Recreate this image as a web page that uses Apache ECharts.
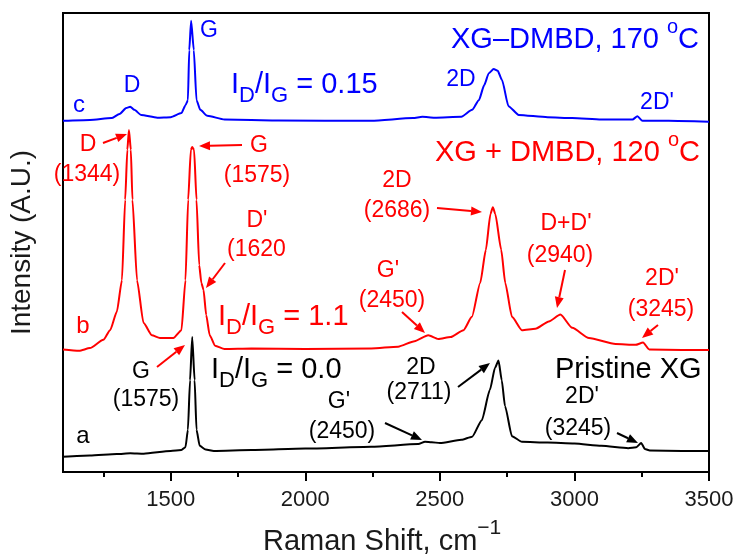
<!DOCTYPE html>
<html>
<head>
<meta charset="utf-8">
<script src="https://cdn.jsdelivr.net/npm/echarts@6/dist/echarts.min.js"></script>
<style>
  html, body { margin: 0; padding: 0; background: #fff; }
  #chart { width: 739px; height: 559px; }
</style>
</head>
<body>
<div id="chart"></div>
<script>
const FONT = '"Liberation Sans", Arial, sans-serif';

// Raman spectra, stacked with an offset: [Raman shift (cm-1), intensity (a.u.)]
const pristineXG = [
  [1100, 3.3], [1200, 3.6], [1300, 3.9], [1350, 4.1], [1400, 4.0], [1500, 4.6],
  [1540, 4.8], [1555, 5.4], [1564, 9.2], [1572, 20.0], [1580, 29.4], [1589, 20.0],
  [1596, 9.2], [1608, 5.7], [1630, 4.9], [1660, 4.6], [1800, 4.8], [2000, 5.1],
  [2245, 5.5], [2420, 6.1], [2445, 6.6], [2470, 6.5], [2500, 6.3], [2580, 7.0],
  [2620, 7.7], [2656, 11.3], [2686, 17.9], [2705, 22.7], [2718, 24.3], [2730, 20.0],
  [2742, 14.4], [2768, 7.8], [2805, 6.6], [2900, 6.4], [3000, 6.2], [3100, 5.7],
  [3200, 5.2], [3230, 5.4], [3248, 6.3], [3262, 5.0], [3280, 4.7], [3400, 4.6], [3500, 4.6]
];
const xgDmbd120 = [
  [1100, 26.7], [1160, 26.4], [1200, 27.0], [1250, 28.8], [1275, 30.9], [1300, 34.9],
  [1319, 41.8], [1331, 59.3], [1339, 70.2], [1345, 74.5], [1352, 70.2], [1358, 59.3],
  [1375, 41.8], [1399, 32.5], [1430, 29.8], [1460, 29.2], [1510, 29.2], [1540, 30.9],
  [1555, 41.8], [1565, 59.3], [1575, 70.2], [1580, 70.8], [1587, 70.2], [1596, 59.3],
  [1606, 45.1], [1614, 41.2], [1622, 39.7], [1632, 34.2], [1645, 29.8], [1665, 27.5],
  [1700, 26.8], [1800, 26.9], [2000, 26.8], [2245, 26.9], [2345, 27.3], [2406, 28.5],
  [2457, 29.8], [2494, 29.0], [2540, 29.4], [2588, 30.9], [2619, 33.8], [2650, 41.2],
  [2671, 48.4], [2688, 56.2], [2697, 57.7], [2706, 56.2], [2728, 48.4], [2743, 41.2],
  [2768, 33.8], [2805, 30.9], [2855, 31.2], [2905, 32.8], [2948, 34.3], [2992, 31.4],
  [3054, 29.2], [3153, 27.9], [3227, 27.7], [3255, 28.2], [3278, 26.7], [3400, 26.6], [3500, 26.6]
];
const xgDmbd170 = [
  [1100, 76.5], [1200, 76.7], [1280, 77.1], [1310, 78.0], [1335, 79.3], [1350, 79.6],
  [1365, 78.9], [1390, 77.8], [1450, 77.2], [1500, 77.3], [1540, 78.2], [1555, 79.9],
  [1564, 81.0], [1569, 91.9], [1576, 98.3], [1586, 91.9], [1596, 81.0], [1610, 78.9],
  [1636, 77.6], [1700, 76.8], [1900, 76.6], [2245, 76.5], [2400, 77.1], [2435, 77.4],
  [2480, 77.2], [2580, 77.4], [2620, 78.9], [2645, 81.0], [2665, 84.3], [2682, 86.9],
  [2700, 87.8], [2715, 87.4], [2731, 85.4], [2755, 79.7], [2793, 77.8], [2900, 77.3],
  [2992, 77.1], [3100, 76.8], [3216, 76.8], [3234, 77.5], [3253, 76.5], [3350, 76.5], [3500, 76.3]
];
const majorTicks = [1500, 2000, 2500, 3000, 3500];
const minorTicks = [1250, 1750, 2250, 2750, 3250];

const BLUE = '#0000ff', RED = '#ff0000', BLACK = '#000000';

const ctx = document.createElement('canvas').getContext('2d');
function measure(s, size) {
  ctx.font = size + 'px ' + FONT;
  return ctx.measureText(s).width;
}

const graphics = [];
function txt(s, x, y, color, size, align) {
  graphics.push({
    type: 'text', x: x, y: y, z: 20,
    style: {
      text: s, fill: color, font: size + 'px ' + FONT,
      textAlign: align || 'center', textVerticalAlign: 'middle',
      align: align || 'center', verticalAlign: 'middle'
    }
  });
}
// text with sub/superscripts: parts = [text, size, dy]
function seq(parts, x, y, color) {
  let cx = x;
  parts.forEach(([s, size, dy]) => {
    txt(s, cx, y + dy, color, size, 'left');
    cx += measure(s, size);
  });
}
function arrow(x1, y1, x2, y2, color) {
  const a = Math.atan2(y2 - y1, x2 - x1);
  const L = 11, W = 4.5;
  const bx = x2 - L * Math.cos(a), by = y2 - L * Math.sin(a);
  graphics.push({
    type: 'line', z: 20,
    shape: { x1: x1, y1: y1, x2: bx, y2: by },
    style: { stroke: color, lineWidth: 2 }
  });
  graphics.push({
    type: 'polygon', z: 20,
    shape: { points: [[x2, y2], [bx - W * Math.sin(a), by + W * Math.cos(a)], [bx + W * Math.sin(a), by - W * Math.cos(a)]] },
    style: { fill: color }
  });
}

// c: XG-DMBD 170 C
txt('G', 209, 31, BLUE, 23);
txt('D', 132, 86, BLUE, 23);
txt('c', 79, 105, BLUE, 24);
txt('2D', 461, 80, BLUE, 23);
txt("2D'", 657, 103, BLUE, 23);
seq([['I', 29, 0], ['D', 22, 11], ['/I', 29, 0], ['G', 22, 11], [' = 0.15', 29, 0]], 231, 85, BLUE);
seq([['XG\u2013DMBD, 170 ', 29, 0], ['o', 20, -13], ['C', 29, 0]], 451, 40, BLUE);

// b: XG + DMBD 120 C
seq([['XG + DMBD, 120 ', 29, 0], ['o', 20, -13], ['C', 29, 0]], 435, 153, RED);
txt('D', 88, 145, RED, 23);
txt('(1344)', 87, 175, RED, 23);
arrow(103, 143, 127, 134, RED);
txt('G', 259, 146, RED, 23);
txt('(1575)', 257, 176, RED, 23);
arrow(242, 145, 199, 146, RED);
txt("D'", 257, 221, RED, 23);
txt('(1620', 227, 250, RED, 23, 'left');
arrow(225, 263, 206, 288, RED);
txt('b', 83, 326, RED, 24);
seq([['I', 29, 0], ['D', 22, 11], ['/I', 29, 0], ['G', 22, 11], [' = 1.1', 29, 0]], 218, 317, RED);
txt('2D', 397, 181, RED, 23);
txt('(2686)', 397, 211, RED, 23);
arrow(437, 208, 482, 212, RED);
txt("G'", 388, 271, RED, 23);
txt('(2450)', 392, 301, RED, 23);
arrow(402, 312, 425, 333, RED);
txt("D+D'", 566, 224, RED, 23);
txt('(2940)', 560, 256, RED, 23);
arrow(565, 270, 557, 308, RED);
txt("2D'", 662, 279, RED, 23);
txt('(3245)', 661, 310, RED, 23);
arrow(658, 325, 642, 338, RED);

// a: pristine XG
txt('G', 141, 372, BLACK, 23);
txt('(1575)', 146, 400, BLACK, 23);
arrow(157, 367, 185, 345, RED);
seq([['I', 29, 0], ['D', 22, 11], ['/I', 29, 0], ['G', 22, 11], [' = 0.0', 29, 0]], 211, 370, BLACK);
txt('Pristine XG', 555, 370, BLACK, 29, 'left');
txt('2D', 421, 368, BLACK, 23);
txt('(2711)', 419, 393, BLACK, 23);
arrow(458, 387, 490, 363, BLACK);
txt("G'", 339, 402, BLACK, 23);
txt('(2450)', 342, 432, BLACK, 23);
arrow(385, 423, 422, 440, BLACK);
txt("2D'", 582, 397, BLACK, 23);
txt('(3245)', 578, 429, BLACK, 23);
arrow(617, 433, 638, 443, BLACK);
txt('a', 83, 436, BLACK, 24);

// x axis title with superscript
seq([['Raman Shift, cm', 29, 0], ['\u22121', 21, -14]], 263, 542, '#1a1a1a');

const chart = echarts.init(document.getElementById('chart'));

const lineSeries = (name, data, color) => ({
  name: name,
  type: 'line',
  data: data,
  showSymbol: false,
  smooth: 0.2,
  smoothMonotone: 'x',
  lineStyle: { color: color, width: 2 },
  itemStyle: { color: color },
  z: 5
});

chart.setOption({
  animation: false,
  backgroundColor: '#fff',
  grid: {
    left: 63, right: 30, top: 13, bottom: 87,
    containLabel: false, outerBoundsMode: 'none',
    show: true, borderColor: '#000', borderWidth: 2
  },
  xAxis: [
    {
      type: 'value', min: 1100, max: 3500,
      axisLine: { show: true, lineStyle: { color: '#000', width: 2 } },
      axisTick: { show: true, customValues: majorTicks, length: 9, lineStyle: { color: '#000', width: 2 } },
      axisLabel: {
        show: true, customValues: majorTicks, fontSize: 22, fontFamily: FONT, color: '#1a1a1a', margin: 17,
        formatter: (v) => String(v)
      },
      splitLine: { show: false }
    },
    {
      type: 'value', min: 1100, max: 3500, position: 'bottom',
      axisLine: { show: false },
      axisTick: { show: true, customValues: minorTicks, length: 5, lineStyle: { color: '#000', width: 2 } },
      axisLabel: { show: false },
      splitLine: { show: false }
    }
  ],
  yAxis: {
    type: 'value', min: 0, max: 100,
    name: 'Intensity (A.U.)', nameLocation: 'middle', nameGap: 27,
    nameTextStyle: { fontSize: 28, fontFamily: FONT, color: '#1a1a1a' },
    axisLine: { show: true, lineStyle: { color: '#000', width: 2 } },
    axisTick: { show: false },
    axisLabel: { show: false },
    splitLine: { show: false }
  },
  series: [
    lineSeries('Pristine XG', pristineXG, BLACK),
    lineSeries('XG + DMBD, 120 °C', xgDmbd120, RED),
    lineSeries('XG-DMBD, 170 °C', xgDmbd170, BLUE)
  ],
  graphic: graphics
});
</script>
</body>
</html>
